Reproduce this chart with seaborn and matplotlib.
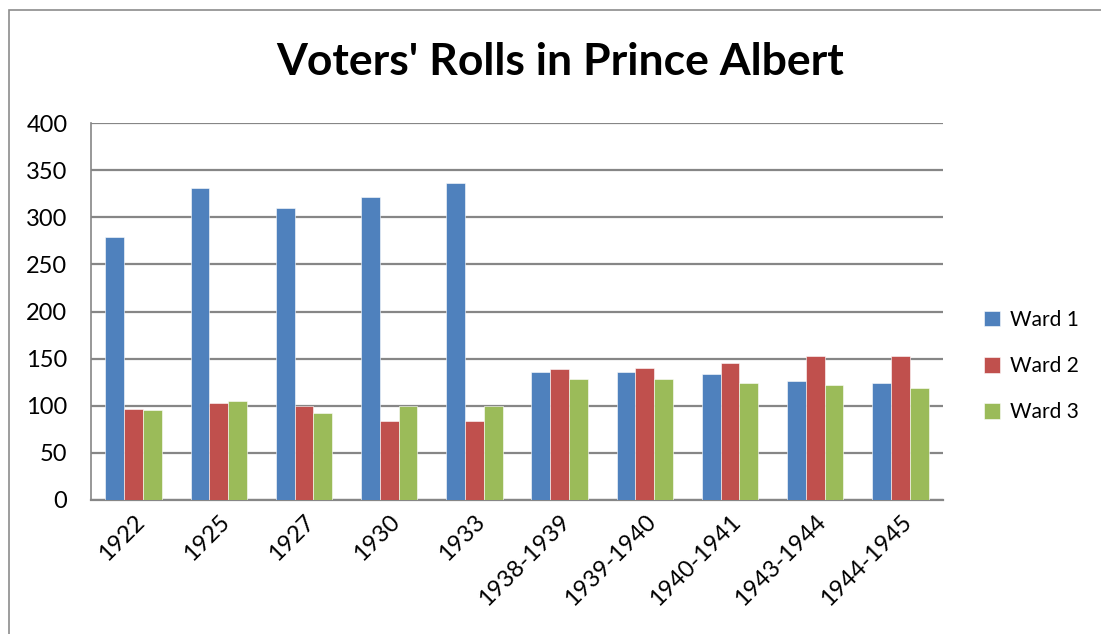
import pandas as pd
import seaborn as sns
import matplotlib.pyplot as plt
from matplotlib.patches import Rectangle

# values
years = ['1922', '1925', '1927', '1930', '1933', '1938-1939', '1939-1940',
         '1940-1941', '1943-1944', '1944-1945']
ward1 = [279, 331, 310, 322, 336, 136, 136, 134, 126, 124]
ward2 = [97, 103, 100, 84, 84, 139, 140, 145, 153, 153]
ward3 = [96, 105, 92, 100, 100, 128, 128, 124, 122, 119]
wards = ['Ward 1', 'Ward 2', 'Ward 3']
colors = ['#4F81BD', '#C0504D', '#9BBB59']

rows = []
for name, vals in zip(wards, [ward1, ward2, ward3]):
    for y, v in zip(years, vals):
        rows.append({'Year': y, 'Ward': name, 'Voters': v})
df = pd.DataFrame(rows)

sns.set_style('white')
plt.rcParams['font.family'] = ['Lato', 'DejaVu Sans']
plt.rcParams['text.color'] = 'black'
plt.rcParams['xtick.color'] = 'black'
plt.rcParams['ytick.color'] = 'black'

fig = plt.figure(figsize=(11.01, 6.34), dpi=100)
ax = fig.add_axes([91 / 1101, 1 - 500 / 634, 852 / 1101, 377 / 634])

sns.barplot(data=df, x='Year', y='Voters', hue='Ward', palette=colors,
            width=0.66, gap=0, saturation=1, ax=ax, zorder=3,
            edgecolor='white', linewidth=0.4)

ax.set_ylim(0, 400)
ax.set_yticks(range(0, 401, 50))
ax.set_xlim(-0.5, len(years) - 0.5)
ax.yaxis.grid(True, color='#868686', linewidth=1.6, zorder=0)
ax.set_axisbelow(True)
ax.set_xlabel('')
ax.set_ylabel('')
for s in ['top', 'right']:
    ax.spines[s].set_visible(False)
ax.spines['left'].set_color('#868686')
ax.spines['bottom'].set_color('#868686')
ax.spines['left'].set_linewidth(1.2)
ax.spines['bottom'].set_linewidth(1.6)
ax.tick_params(axis='y', labelsize=17, length=0, pad=17)
ax.tick_params(axis='x', labelsize=17, length=0, pad=8)
plt.setp(ax.get_xticklabels(), rotation=45, ha='right', rotation_mode='anchor')

# legend sits right of the plot, a bit below the middle
ax.legend(loc='center left', bbox_to_anchor=(1.048, 0.355), frameon=False,
          fontsize=15, handlelength=0.75, handleheight=0.75, labelspacing=1.25,
          handletextpad=0.5, borderpad=0, borderaxespad=0)

fig.text(560 / 1101, 1 - 62 / 634, "Voters' Rolls in Prince Albert",
         ha='center', va='center', fontsize=32, fontweight='bold')

# outer chart frame
fig.patches.append(Rectangle((9 / 1101, -0.1), 1.2, 1 - 10 / 634 + 0.1,
                             transform=fig.transFigure, fill=False,
                             edgecolor='#8c8c8c', linewidth=1.2))

fig.savefig('out.png', dpi=100)
